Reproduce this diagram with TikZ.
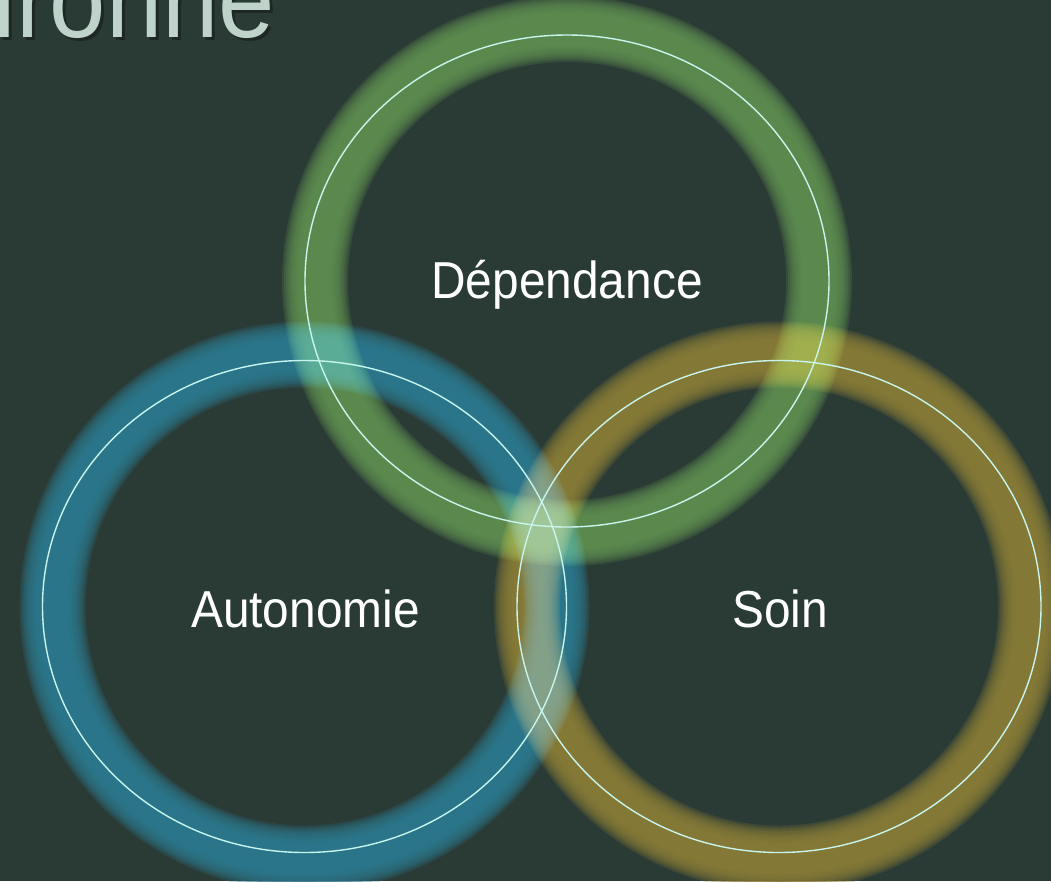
\documentclass[tikz,border=0pt]{standalone}
\usepackage{fontspec}
\setmainfont{Liberation Sans}
\newfontfamily\labfont[FakeStretch=0.92]{Liberation Sans}
\newfontfamily\titfont[FakeStretch=0.92]{Liberation Sans}
\definecolor{bg}{HTML}{2A3A35}
\definecolor{ringgreen}{rgb}{0.25,0.44,0.13}
\definecolor{ringblue}{rgb}{0.0,0.33,0.45}
\definecolor{ringyellow}{rgb}{0.46,0.34,0.0}
\definecolor{thinline}{HTML}{C8F4EE}
\definecolor{titlecol}{HTML}{BFD3CB}
\tikzset{
  glowlayer/.style={line width=#1, opacity=0.22},
  thinring/.style={draw=thinline, line width=1.4pt},
  label/.style={inner sep=0pt, anchor=base, text=white, font=\labfont\fontsize{52}{52}\selectfont},
  titlestyle/.style={inner sep=0pt, anchor=base west, font=\titfont\fontsize{110}{110}\selectfont},
}
\newcommand{\glowring}[3]{%
  \begin{scope}[blend mode=screen]
  \begin{scope}[transparency group]
  \foreach \w in {66,62,58,54,50,46,42,38,34,30} {
    \draw[#3, glowlayer=\w pt] (#1,#2) circle [radius=252];
  }
  \end{scope}
  \end{scope}
}
\begin{document}
\begin{tikzpicture}[x=1pt,y=-1pt]
\fill[bg] (0,0) rectangle (1051,881);
\useasboundingbox (0,0) rectangle (1051,881);
\clip (0,0) rectangle (1051,881);
% title fragment with drop shadow
\node[titlestyle, text=black, opacity=0.3] (titleshadow) at (-3.5,40) {ironne};
\node[titlestyle, text=titlecol] (title) at (-6.5,37) {ironne};
% glow rings
\glowring{567}{281}{ringgreen}
\glowring{304.5}{606.5}{ringblue}
\glowring{779}{606.5}{ringyellow}
% thin rings
\draw[thinring] (567,281) ellipse [x radius=262, y radius=246];
\draw[thinring] (304.5,606.5) ellipse [x radius=262, y radius=246];
\draw[thinring] (779,606.5) ellipse [x radius=262, y radius=246];
% labels
\node[label] (dep) at (567,298) {Dépendance};
\node[label] (auto) at (305.5,627) {Autonomie};
\node[label] (soin) at (780,627) {Soin};
\end{tikzpicture}
\end{document}
